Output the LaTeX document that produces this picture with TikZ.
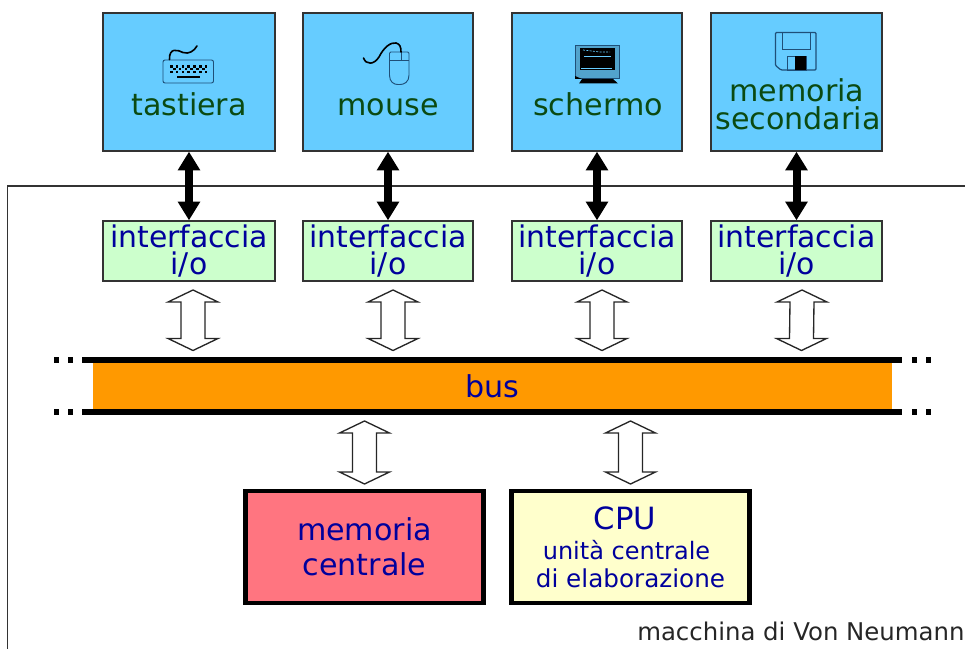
\documentclass[tikz,border=0pt]{standalone}
\usepackage{fontspec}
\setmainfont{DejaVu Sans}
\usetikzlibrary{arrows.meta,calc}
\definecolor{devblue}{HTML}{66CCFF}
\definecolor{ifgreen}{HTML}{CCFFCC}
\definecolor{busorange}{HTML}{FF9900}
\definecolor{mempink}{HTML}{FF7580}
\definecolor{cpuyellow}{HTML}{FFFFCC}
\definecolor{txtgreen}{HTML}{0B4A12}
\definecolor{txtblue}{HTML}{00009C}
\definecolor{edgegray}{HTML}{333333}
\definecolor{iconline}{HTML}{1F4F78}
\tikzset{
  devbox/.style={draw=edgegray,line width=0.9pt,fill=devblue,minimum height=103.5pt,inner sep=0pt,outer sep=0pt},
  ifbox/.style={draw=edgegray,line width=0.9pt,fill=ifgreen,minimum height=45pt,inner sep=0pt,outer sep=0pt,
     text=txtblue,align=center,font=\fontsize{22.4}{20.2}\selectfont},
  devtext/.style={text=txtgreen,inner sep=0pt,anchor=base,font=\fontsize{22.6}{21}\selectfont,align=center},
  mainbox/.style={draw=black,line width=3.5pt,inner sep=0pt,outer sep=0pt,text=txtblue,align=center},
  solidarrow/.style={line width=6pt,draw=black,{Triangle[length=14pt,width=16pt]}-{Triangle[length=14pt,width=16pt]},shorten <=0.5pt,shorten >=0.5pt},
  hollowarrow/.style={draw=black!85,line width=1pt,fill=white,line join=miter},
  busline/.style={line width=3.8pt,draw=black},
  busdots/.style={line width=3.8pt,draw=black,dash pattern=on 3.8pt off 6.7pt},
  iconstroke/.style={draw=iconline,line width=0.7pt},
  cablestroke/.style={draw=black,line width=1.2pt,line cap=round}
}
\newcommand{\hollowconn}[2]{%
  \draw[hollowarrow] (#1) -- ($(#1)+(25,12)$) -- ($(#1)+(12,12)$) -- ($(#2)+(12,-12)$) -- ($(#2)+(25,-12)$)
    -- (#2) -- ($(#2)+(-25,-12)$) -- ($(#2)+(-12,-12)$) -- ($(#1)+(-12,12)$) -- ($(#1)+(-25,12)$) -- cycle;}
\begin{document}
\begin{tikzpicture}[x=0.75pt,y=-0.75pt]
\useasboundingbox (0,0) rectangle (965,649);
% outer frame
\draw[draw=edgegray,line width=1pt] (965,186) -- (7.5,186) -- (7.5,649);

% device boxes
\node[devbox,minimum width=129pt] (kbd) at (189,82) {};
\node[devbox,minimum width=127.5pt] (mou) at (388,82) {};
\node[devbox,minimum width=127.5pt] (scr) at (597,82) {};
\node[devbox,minimum width=128.25pt] (sec) at (796.5,82) {};
\node[devtext] (kbdt) at (189,115.5) {tastiera};
\node[devtext] (mout) at (388,115.5) {mouse};
\node[devtext] (scrt) at (598,115.5) {schermo};
\node[devtext] (sect) at (797,101.5) {memoria};
\node[devtext] (sect2) at (798,129.5) {secondaria};

% interface boxes
\node[ifbox,minimum width=129pt] (if1) at (189,251) {interfaccia\\i/o};
\node[ifbox,minimum width=127.5pt] (if2) at (388,251) {interfaccia\\i/o};
\node[ifbox,minimum width=127.5pt] (if3) at (597,251) {interfaccia\\i/o};
\node[ifbox,minimum width=128.25pt] (if4) at (796.5,251) {interfaccia\\i/o};

% solid connectors
\draw[solidarrow] (kbd.south) -- (if1.north);
\draw[solidarrow] (mou.south) -- (if2.north);
\draw[solidarrow] (scr.south) -- (if3.north);
\draw[solidarrow] (sec.south) -- (if4.north);

% bus
\node[fill=busorange,minimum width=599.25pt,minimum height=36.75pt,inner sep=0pt,outer sep=0pt,text=txtblue,font=\fontsize{22.6}{24}\selectfont] (bus) at (492.5,386) {bus};
\coordinate (bustl) at (82,360);
\coordinate (bustr) at (902,360);
\coordinate (busbl) at (82,412);
\coordinate (busbr) at (902,412);
\draw[busline] (bustl) -- (bustr);
\draw[busline] (busbl) -- (busbr);
\draw[busdots] (54,360) -- (75,360);
\draw[busdots] (54,412) -- (75,412);
\draw[busdots] (912,360) -- (933,360);
\draw[busdots] (912,412) -- (933,412);

% main boxes
\node[mainbox,fill=mempink,minimum width=178.5pt,minimum height=84pt,font=\fontsize{22.6}{26}\selectfont] (mem) at (364.5,547) {memoria\\centrale};
\node[mainbox,fill=cpuyellow,minimum width=178.5pt,minimum height=84pt] (cpu) at (630.5,547) {};
\node[text=txtblue,inner sep=0pt,anchor=base,font=\fontsize{23}{24}\selectfont] (cput) at (625,529) {CPU};
\node[text=txtblue,inner sep=0pt,anchor=base,font=\fontsize{18}{20}\selectfont] (cput2) at (626.5,559) {unità centrale};
\node[text=txtblue,inner sep=0pt,anchor=base,font=\fontsize{18.5}{20}\selectfont] (cput3) at (630.5,587) {di elaborazione};

% hollow connectors
\path ($(if1.south)+(4,9)$) coordinate (h1a) ($(bus.north)+(-299.5,-11)$) coordinate (h1b);
\path ($(if2.south)+(5,9)$) coordinate (h2a) ($(bus.north)+(-99.5,-11)$) coordinate (h2b);
\path ($(if3.south)+(5,9)$) coordinate (h3a) ($(bus.north)+(109.5,-11)$) coordinate (h3b);
\path ($(if4.south)+(5.5,9)$) coordinate (h4a) ($(bus.north)+(309,-11)$) coordinate (h4b);
\hollowconn{h1a}{h1b}
\hollowconn{h2a}{h2b}
\hollowconn{h3a}{h3b}
\hollowconn{h4a}{h4b}
\path ($(mem.north)+(0,-70)$) coordinate (h5a) ($(mem.north)+(0,-7)$) coordinate (h5b);
\path ($(cpu.north)+(0,-70)$) coordinate (h6a) ($(cpu.north)+(0,-7)$) coordinate (h6b);
\hollowconn{h5a}{h5b}
\hollowconn{h6a}{h6b}

% keyboard icon
\draw[iconstroke,rounded corners=1.5pt] (163,60) rectangle (213.5,83);
\draw[cablestroke] (169.5,59.5) .. controls (169,47) and (178,50) .. (183,52.5) .. controls (189,54.5) and (194,51) .. (197,46);
\foreach \r in {0,1,2} \foreach \c in {0,...,12} {
  \pgfmathparse{int(mod(\r+\c,2))}
  \ifnum\pgfmathresult=0 \fill[black] (170+\c*2.9,65+\r*2.8) rectangle ++(2.6,2.6);\fi
}
\fill[black] (177,76.2) rectangle (200,78.4);

% mouse icon
\draw[iconstroke,rounded corners=1pt] (389.5,60) -- (389.5,52) -- (409,52) -- (409,74) .. controls (409,82) and (404,84.5) .. (399,84.5) .. controls (394,84.5) and (389.5,82) .. (389.5,74) -- cycle;
\draw[iconstroke] (389.5,60) -- (409,60) (401,52) -- (401,60);
\draw[cablestroke] (363.5,58) .. controls (366,65) and (374,65) .. (379,57) .. controls (384,47) and (391,42) .. (396,43) .. controls (400,44) and (401,47) .. (401,52);

% screen icon
\fill[devblue!80!black] (575,45) rectangle (619.5,78);
\draw[iconstroke] (575,45) rectangle (619.5,78);
\fill[black] (579.5,48) rectangle (615,70);
\draw[devblue,line width=0.5pt,dash pattern=on 1.5pt off 1pt] (583,50) -- (600,52) -- (610,52);
\draw[devblue,line width=0.5pt] (584,56) -- (611,56);
\draw[devblue,line width=0.6pt] (581,68) -- (612,68);
\fill[black] (582,79) -- (613,79) -- (618,83.5) -- (579,83.5) -- cycle;
\fill[black] (575,76) -- (582,79) -- (575,79) -- cycle;

% floppy icon
\draw[draw=iconline,line width=0.9pt,rounded corners=0.8pt] (775.5,32.5) -- (816,32.5) -- (816,70) -- (781,70) -- (775.5,65.5) -- cycle;
\draw[iconstroke] (782,32.5) -- (782,49.5) -- (810,49.5) -- (810,32.5);
\draw[iconstroke] (787,56) rectangle (806,70);
\fill[black] (795,56.5) rectangle (805.5,70);

% caption
\node[anchor=base west,inner sep=0pt,text=black!85,font=\fontsize{18.3}{20}\selectfont] (cap) at (637,640) {macchina di Von Neumann};
\end{tikzpicture}
\end{document}
